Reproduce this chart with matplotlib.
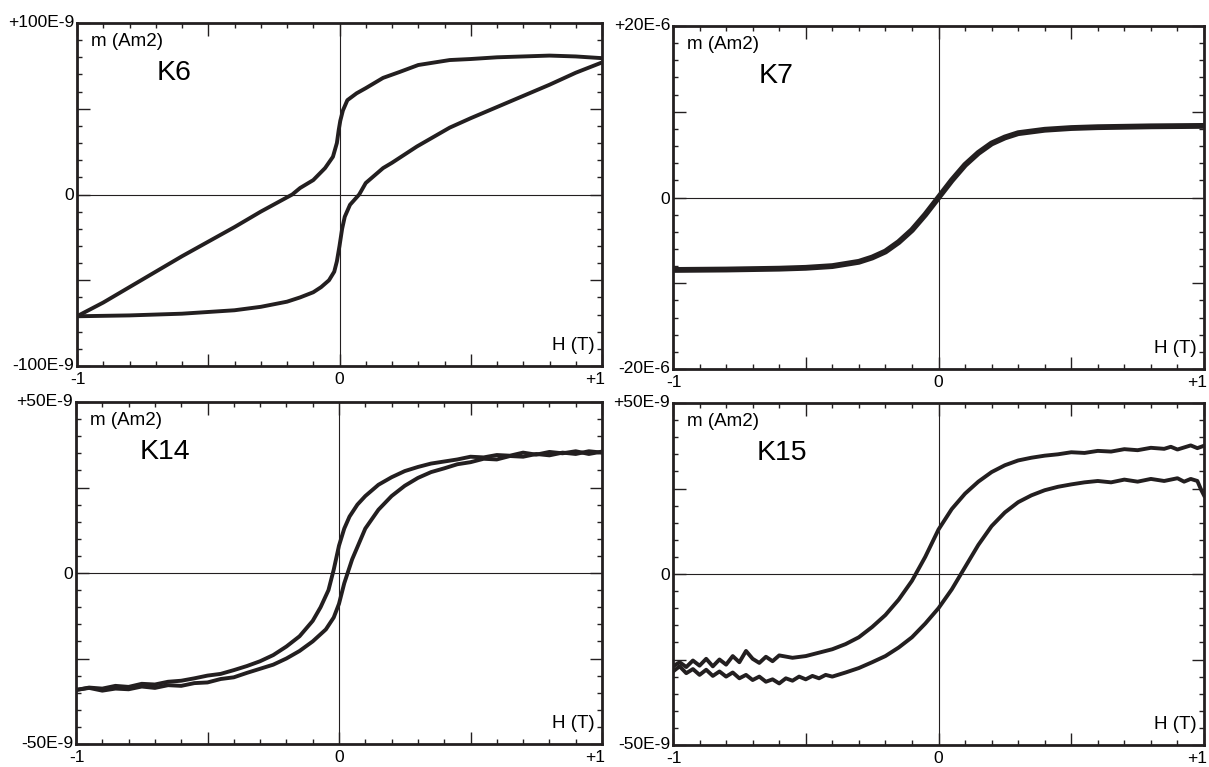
import matplotlib.pyplot as plt
from matplotlib.ticker import MultipleLocator

plt.rcParams['font.family'] = ['Liberation Sans', 'DejaVu Sans']

INK = '#231f20'

# K6, m in E-9 Am2
k6_up_h = [1.0, 0.9, 0.8, 0.7, 0.6, 0.5, 0.42, 0.3, 0.23, 0.166, 0.1, 0.065, 0.03, 0.013,
           0.003, -0.003, -0.01, -0.025, -0.055, -0.1, -0.15, -0.18, -0.3, -0.4, -0.5,
           -0.6, -0.7, -0.8, -0.9, -1.0]
k6_up_m = [79.5, 80.5, 81.0, 80.5, 80.0, 79.0, 78.4, 75.5, 71.5, 68.0, 62.0, 59.0, 55.0, 49.0,
           43.0, 37.6, 30.0, 22.0, 15.4, 8.4, 3.8, 0.0, -10.0, -19.0, -27.5,
           -36.0, -45.0, -54.0, -63.0, -71.0]
k6_lo_h = [-1.0, -0.8, -0.6, -0.4, -0.3, -0.2, -0.15, -0.1, -0.07, -0.04, -0.02, -0.01,
           0.0, 0.01, 0.02, 0.04, 0.075, 0.1, 0.166, 0.2, 0.295, 0.42, 0.5, 0.6, 0.7,
           0.8, 0.9, 1.0]
k6_lo_m = [-71.0, -70.5, -69.5, -67.5, -65.5, -62.5, -60.0, -57.0, -54.0, -50.0, -45.0, -39.0,
           -30.0, -20.0, -13.0, -6.0, 0.0, 6.7, 15.4, 18.5, 28.0, 39.0, 44.5, 51.0, 57.5,
           64.0, 71.0, 77.0]

# K7, m in E-6 Am2
k7_h = [-1.0, -0.8, -0.6, -0.5, -0.4, -0.3, -0.25, -0.2, -0.15, -0.1, -0.05, 0.0,
        0.05, 0.1, 0.15, 0.2, 0.25, 0.3, 0.4, 0.5, 0.6, 0.8, 1.0]
k7_m = [-8.45, -8.4, -8.3, -8.2, -8.0, -7.5, -7.0, -6.3, -5.2, -3.8, -2.0, 0.0,
        2.0, 3.8, 5.2, 6.3, 7.0, 7.5, 7.9, 8.1, 8.2, 8.3, 8.35]

# K14, m in E-9 Am2
k14_up_h = [1.0, 0.95, 0.9, 0.85, 0.8, 0.75, 0.7, 0.65, 0.6, 0.55, 0.5, 0.45, 0.4, 0.35,
            0.3, 0.25, 0.2, 0.15, 0.1, 0.07, 0.04, 0.02, 0.0, -0.02, -0.04, -0.07, -0.1,
            -0.15, -0.2, -0.25, -0.3, -0.35, -0.4, -0.45, -0.5, -0.55, -0.6, -0.65, -0.7,
            -0.75, -0.8, -0.85, -0.9, -0.95, -1.0]
k14_up_m = [35.5, 34.8, 35.6, 35.0, 35.4, 34.6, 35.2, 34.3, 34.5, 33.8, 34.0, 33.2, 32.6, 32.0,
            31.0, 29.8, 28.0, 25.8, 22.5, 20.0, 16.5, 13.0, 8.0, 1.0, -5.0, -10.0, -14.0,
            -18.5, -21.5, -24.0, -25.8, -27.2, -28.4, -29.5, -30.0, -30.8, -31.5, -31.8, -32.6,
            -32.4, -33.3, -33.0, -33.8, -33.5, -34.2]
k14_lo_h = [-1.0, -0.95, -0.9, -0.85, -0.8, -0.75, -0.7, -0.65, -0.6, -0.55, -0.5, -0.45,
            -0.4, -0.35, -0.3, -0.25, -0.2, -0.15, -0.1, -0.05, -0.02, 0.0, 0.02, 0.05,
            0.1, 0.15, 0.2, 0.25, 0.3, 0.35, 0.4, 0.45, 0.5, 0.55, 0.6, 0.65, 0.7, 0.75,
            0.8, 0.85, 0.9, 0.95, 1.0]
k14_lo_m = [-34.2, -33.6, -34.4, -33.8, -34.0, -33.2, -33.6, -32.8, -33.0, -32.2, -32.0, -31.0,
            -30.5, -29.2, -28.0, -26.8, -25.0, -22.8, -20.0, -16.5, -13.0, -9.0, -3.0, 4.0,
            13.0, 18.5, 22.5, 25.5, 27.8, 29.5, 30.6, 31.8, 32.4, 33.4, 33.2, 34.2, 34.0, 34.8,
            34.4, 35.2, 34.8, 35.6, 35.2]

# K15, m in E-9 Am2
k15_up_h = [1.0, 0.975, 0.95, 0.925, 0.9, 0.875, 0.85, 0.8, 0.75, 0.7, 0.65, 0.6, 0.55,
            0.5, 0.45, 0.4, 0.35, 0.3, 0.25, 0.2, 0.15, 0.1, 0.05, 0.0, -0.05, -0.1, -0.15,
            -0.2, -0.25, -0.3, -0.35, -0.4, -0.45, -0.5, -0.55, -0.6, -0.625, -0.65, -0.675,
            -0.7, -0.725, -0.75, -0.775, -0.8, -0.825, -0.85, -0.875, -0.9, -0.925, -0.95,
            -0.975, -1.0]
k15_up_m = [37.5, 36.8, 37.6, 37.0, 36.4, 37.2, 36.6, 36.9, 36.2, 36.5, 35.8, 36.0, 35.4,
            35.6, 35.0, 34.6, 34.0, 33.2, 31.8, 29.8, 27.0, 23.5, 19.0, 13.0, 5.0, -2.0, -7.5,
            -12.0, -15.5, -18.5, -20.5, -22.0, -23.0, -24.0, -24.5, -23.8, -25.5, -24.2, -26.0,
            -24.8, -22.5, -25.8, -24.0, -26.5, -25.0, -27.0, -24.8, -26.8, -25.3, -27.2,
            -25.8, -27.0]
k15_lo_h = [-1.0, -0.975, -0.95, -0.925, -0.9, -0.875, -0.85, -0.825, -0.8, -0.775, -0.75,
            -0.725, -0.7, -0.675, -0.65, -0.625, -0.6, -0.575, -0.55, -0.525, -0.5, -0.475,
            -0.45, -0.425, -0.4, -0.35, -0.3, -0.25, -0.2, -0.15, -0.1, -0.05, 0.0, 0.05,
            0.1, 0.15, 0.2, 0.25, 0.3, 0.35, 0.4, 0.45, 0.5, 0.55, 0.6, 0.65, 0.7, 0.75,
            0.8, 0.85, 0.9, 0.925, 0.95, 0.975, 0.99, 1.0]
k15_lo_m = [-28.5, -27.0, -29.0, -27.8, -29.5, -28.0, -29.8, -28.5, -30.0, -28.8, -30.5,
            -29.5, -31.0, -30.0, -31.5, -30.8, -32.0, -30.5, -31.2, -30.0, -30.8, -29.8,
            -30.5, -29.5, -30.0, -28.8, -27.5, -25.8, -24.0, -21.5, -18.5, -14.5, -10.0, -4.5,
            2.0, 8.5, 14.0, 18.0, 21.0, 23.0, 24.5, 25.5, 26.2, 26.8, 27.2, 26.8, 27.6, 27.0,
            27.8, 27.2, 28.0, 27.0, 27.8, 27.2, 24.5, 23.0]

W, H = 1209, 767
LABEL_SIZE = 12.5
fig = plt.figure(figsize=(W / 100, H / 100), dpi=100)


def edge_label(ax, text, xy, offset, ha, va):
    ax.annotate(text, xy=xy, xycoords='axes fraction', xytext=offset,
                textcoords='offset points', ha=ha, va=va, fontsize=LABEL_SIZE)


def panel(box, branches, ymax, ylabels, name, name_dx, lw=2.8):
    x0, y0, x1, y1 = box
    ax = fig.add_axes([x0 / W, 1 - y1 / H, (x1 - x0) / W, (y1 - y0) / H])
    pw, ph = x1 - x0, y1 - y0
    ax.axhline(0, color=INK, lw=0.8, zorder=1)
    ax.axvline(0, color=INK, lw=0.8, zorder=1)
    for hx, my in branches:
        ax.plot(hx, my, color=INK, lw=lw, solid_joinstyle='round', zorder=3)
    ax.set_xlim(-1, 1)
    ax.set_ylim(-ymax, ymax)
    ax.set_xticks([-1, -0.5, 0, 0.5, 1])
    ax.set_xticklabels(['', '', '0', '', ''])
    ax.xaxis.set_minor_locator(MultipleLocator(0.1))
    ax.set_yticks([-ymax, -ymax / 2, 0, ymax / 2, ymax])
    ax.set_yticklabels(['', '', '0', '', ''])
    ax.yaxis.set_minor_locator(MultipleLocator(ymax / 10))
    ax.tick_params(which='both', direction='in', top=True, right=True,
                   color=INK, width=1.0, labelsize=LABEL_SIZE)
    ax.tick_params(axis='x', pad=4)
    ax.tick_params(axis='y', pad=2)
    ax.tick_params(which='major', length=9)
    ax.tick_params(which='minor', length=3.6)
    # range labels at the axis ends
    edge_label(ax, '-1', (0, 0), (0.5, -4), 'center', 'top')
    edge_label(ax, '+1', (1, 0), (2.5, -4), 'right', 'top')
    edge_label(ax, ylabels[1], (0, 1), (-2, 1.2), 'right', 'center_baseline')
    edge_label(ax, ylabels[0], (0, 0), (-2, 1.5), 'right', 'center_baseline')
    for s in ax.spines.values():
        s.set_linewidth(2.0)
        s.set_color(INK)
    ax.text(14 / pw, 1 - 10 / ph, 'm (Am2)', transform=ax.transAxes,
            ha='left', va='top', fontsize=13.5)
    ax.text(name_dx / pw, 1 - 57 / ph, name, transform=ax.transAxes,
            ha='left', va='baseline', fontsize=20.5)
    ax.text(1 - 7 / pw, 16 / ph, 'H (T)', transform=ax.transAxes,
            ha='right', va='baseline', fontsize=13.5)
    return ax


panel((77, 23, 602, 366), [(k6_up_h, k6_up_m), (k6_lo_h, k6_lo_m)],
      100, ('-100E-9', '+100E-9'), 'K6', 80)
panel((673, 26, 1204, 369), [(k7_h, k7_m)],
      20, ('-20E-6', '+20E-6'), 'K7', 86, lw=4.2)
panel((76, 402, 602, 744), [(k14_up_h, k14_up_m), (k14_lo_h, k14_lo_m)],
      50, ('-50E-9', '+50E-9'), 'K14', 64)
panel((673, 403, 1204, 745), [(k15_up_h, k15_up_m), (k15_lo_h, k15_lo_m)],
      50, ('-50E-9', '+50E-9'), 'K15', 84)

fig.savefig('out.png', dpi=100)
